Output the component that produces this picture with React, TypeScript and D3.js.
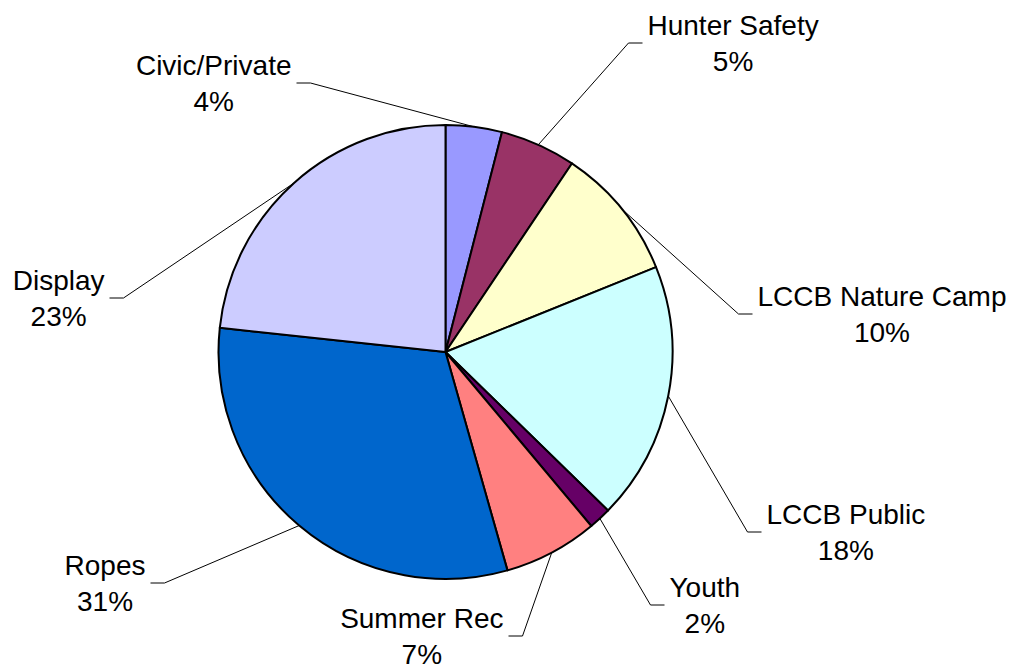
import React, { useRef, useEffect } from 'react';
import * as d3 from 'd3';

const categories = ['Civic/Private', 'Hunter Safety', 'LCCB Nature Camp', 'LCCB Public', 'Youth', 'Summer Rec', 'Ropes', 'Display'];
const shares = [4.0, 5.4, 9.5, 18.4, 1.6, 6.7, 31.1, 23.3];
const colors = ['#9999FF', '#993366', '#FFFFCC', '#CCFFFF', '#660066', '#FF8080', '#0066CC', '#CCCCFF'];

// where each leader line bends (offset from pie centre), labels were dragged by hand
const elbows: [number, number][] = [
  [-135, -269], [183, -309], [293, -38], [302, 180],
  [205, 253], [77, 284], [-281, 231], [-322, -54],
];

const W = 1014;
const H = 664;
const cx = 445.5;
const cy = 352;
const R = 227;

const App: React.FC = () => {
  const svgRef = useRef<SVGSVGElement | null>(null);

  useEffect(() => {
    if (!svgRef.current) return;
    const svg = d3.select(svgRef.current);
    svg.selectAll('*').remove();

    const pie = d3.pie<number>().sort(null).value((d) => d);
    const arcs = pie(shares);
    const arc = d3.arc<d3.PieArcDatum<number>>().innerRadius(0).outerRadius(R);
    const total = d3.sum(shares);

    const g = svg.append('g').attr('transform', `translate(${cx},${cy})`);

    g.selectAll('path.slice')
      .data(arcs)
      .join('path')
      .attr('class', 'slice')
      .attr('d', arc)
      .attr('fill', (_, i) => colors[i])
      .attr('stroke', '#000')
      .attr('stroke-width', 2)
      .attr('stroke-linejoin', 'round');

    arcs.forEach((a, i) => {
      const mid = (a.startAngle + a.endAngle) / 2;
      const sx = R * Math.sin(mid);
      const sy = -R * Math.cos(mid);
      const [ex, ey] = elbows[i];
      const right = ex > sx;
      const hx = ex + (right ? 14 : -14);

      g.append('polyline')
        .attr('points', `${sx},${sy} ${ex},${ey} ${hx},${ey}`)
        .attr('fill', 'none')
        .attr('stroke', '#000')
        .attr('stroke-width', 1);

      const lab = g.append('text')
        .attr('text-anchor', 'middle')
        .attr('font-family', '"Liberation Sans", Arial, sans-serif')
        .attr('font-size', 28)
        .attr('fill', '#000');
      lab.append('tspan').attr('x', 0).attr('y', ey - 8).text(categories[i]);
      lab.append('tspan').attr('x', 0).attr('y', ey + 27.5)
        .text(`${Math.round((shares[i] / total) * 100)}%`);

      const w = (lab.node() as SVGTextElement).getBBox().width;
      const lx = right ? hx + 5 + w / 2 : hx - 5 - w / 2;
      lab.attr('transform', `translate(${lx},0)`);
    });
  }, []);

  return (
    <div style={{ position: 'absolute', left: 0, top: 0, width: W, height: H, background: '#fff' }}>
      <svg ref={svgRef} width={W} height={H} style={{ display: 'block' }}></svg>
    </div>
  );
};

export default App;
